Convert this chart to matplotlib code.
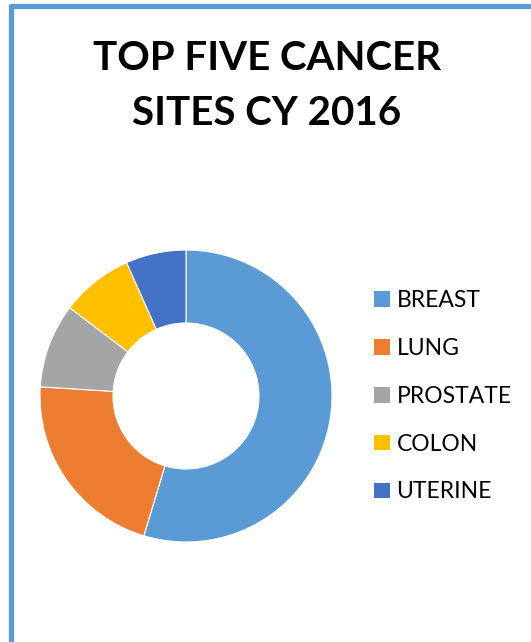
import matplotlib
matplotlib.use("Agg")
import matplotlib.pyplot as plt
from matplotlib.patches import Patch
from matplotlib.lines import Line2D

# ===== data =====
SITES  = ["BREAST", "LUNG", "PROSTATE", "COLON", "UTERINE"]
CASES  = [164, 64, 28, 24, 20]
COLORS = ["#5B9BD5", "#ED7D31", "#A5A5A5", "#FFC000", "#4472C4"]

TITLE = "TOP FIVE CANCER\nSITES CY 2016"

W, H = 531, 642
plt.rcParams["font.family"] = ["Lato", "DejaVu Sans"]

fig = plt.figure(figsize=(W / 100, H / 100), dpi=100)

# donut: centre ~(186, 396) px, outer radius ~146 px
cx, cy, r = 186, 396, 146
ax = fig.add_axes([(cx - r) / W, (H - cy - r) / H, 2 * r / W, 2 * r / H])
wedges, _ = ax.pie(
    CASES,
    colors=COLORS,
    startangle=90,
    counterclock=False,
    radius=1.0,
    wedgeprops=dict(width=0.5, edgecolor="white", linewidth=0.8),
)
ax.set_xlim(-1, 1)
ax.set_ylim(-1, 1)
ax.set_aspect("equal")
ax.axis("off")

# title
fig.text(267 / W, 1 - 86 / H, TITLE, ha="center", va="center",
         fontsize=29, fontweight="bold", linespacing=1.6, color="black")

# legend
handles = [Patch(facecolor=c, edgecolor="none") for c in COLORS]
fig.legend(
    handles, SITES,
    loc="upper left",
    bbox_to_anchor=(365 / W, 1 - 281 / H),
    frameon=False,
    fontsize=16.5,
    handlelength=0.67,
    handleheight=0.67,
    handletextpad=0.3,
    labelspacing=1.17,
    borderaxespad=0,
)

# chart-area border (top + left visible)
bc = "#5B9BD5"
fig.add_artist(Line2D([10 / W, 1], [1 - 5.5 / H, 1 - 5.5 / H], color=bc, lw=3.8,
                      transform=fig.transFigure, solid_capstyle="butt"))
fig.add_artist(Line2D([10.5 / W, 10.5 / W], [0, 1 - 3.5 / H], color=bc, lw=3.8,
                      transform=fig.transFigure, solid_capstyle="butt"))

fig.savefig("out.png", dpi=100, facecolor="white")
